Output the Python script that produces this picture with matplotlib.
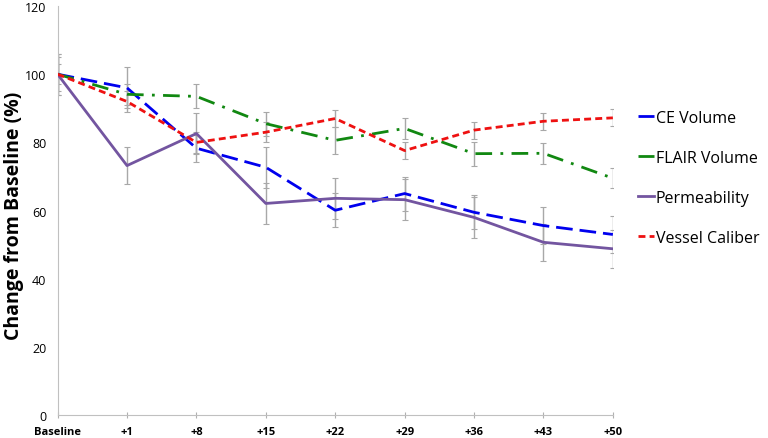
import numpy as np
import matplotlib
matplotlib.use("Agg")
import matplotlib.pyplot as plt

plt.rcParams['font.family'] = ['Open Sans', 'DejaVu Sans']

days = ["Baseline", "+1", "+8", "+15", "+22", "+29", "+36", "+43", "+50"]

ce_volume = [100, 96, 78.3, 72.7, 60.1, 65, 59.5, 55.6, 53]
ce_err = [6, 6, 4, 6, 5, 5, 5, 5.5, 5.5]

flair_volume = [100, 94.1, 93.5, 85.5, 80.6, 84.1, 76.7, 76.8, 69.5]
flair_err = [5, 3, 3.5, 3.5, 4, 3, 3.5, 3, 3]

permeability = [100, 73.2, 82.6, 62.1, 63.6, 63.2, 58, 50.7, 48.8]
perm_err = [6, 5.5, 6, 6, 6, 6, 6, 5.5, 5.5]

vessel_caliber = [100, 92, 80, 83, 87, 77.6, 83.6, 86.2, 87.2]
vessel_err = [3, 3, 3, 3, 2.5, 2.5, 2.5, 2.5, 2.5]

x = np.arange(len(days))

fig = plt.figure(figsize=(7.68, 4.39), dpi=100)
ax = fig.add_axes([0.075, 0.052, 0.723, 0.932])

ebar = dict(fmt='none', ecolor='#a8a8a8', elinewidth=1, capsize=2, capthick=0.8, zorder=1)
for vals, err in [(ce_volume, ce_err), (flair_volume, flair_err),
                  (permeability, perm_err), (vessel_caliber, vessel_err)]:
    ax.errorbar(x, vals, yerr=err, **ebar)

ax.plot(x, ce_volume, color='#0000ee', lw=2, dashes=(6, 2.5), label='CE Volume', zorder=3)
ax.plot(x, flair_volume, color='#118811', lw=2, dashes=(6, 3, 1, 3), label='FLAIR Volume', zorder=3)
ax.plot(x, permeability, color='#7355a0', lw=2, label='Permeability', zorder=3)
ax.plot(x, vessel_caliber, color='#ee1111', lw=2, dashes=(2.5, 1.5), label='Vessel Caliber', zorder=3)

ax.set_xlim(0, 8)
ax.set_ylim(0, 120)
ax.set_yticks(range(0, 121, 20))
ax.set_xticks(x)
ax.set_xticklabels(days, fontweight='bold', fontsize=8)
ax.tick_params(axis='y', length=0, labelsize=9, pad=8)
ax.tick_params(axis='x', direction='inout', length=5, color='#b0b0b0', pad=5)
for s in ['top', 'right']:
    ax.spines[s].set_visible(False)
ax.spines['left'].set_color('#c0c0c0')
ax.spines['bottom'].set_color('#c0c0c0')

ax.set_ylabel('Change from Baseline (%)', fontsize=14, fontweight='bold', labelpad=4)
ax.yaxis.set_label_coords(-0.06, 0.49)

ax.legend(loc='center left', bbox_to_anchor=(1.02, 0.58), frameon=False,
          fontsize=11.5, handlelength=1.0, handletextpad=0.1, labelspacing=1.5)

fig.savefig('out.png', dpi=100)
